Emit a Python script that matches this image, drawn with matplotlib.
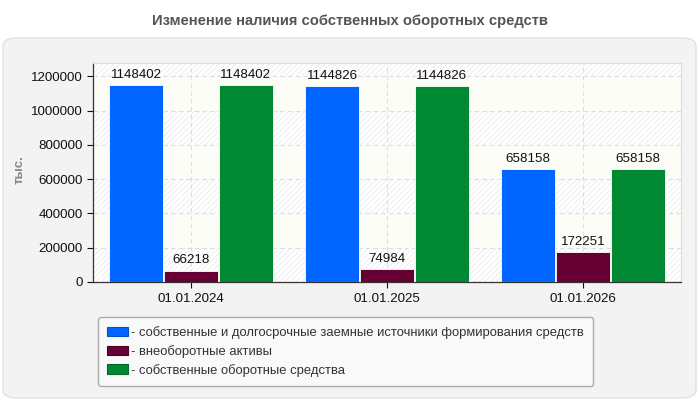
import numpy as np
import matplotlib
matplotlib.use("Agg")
import matplotlib.pyplot as plt
from matplotlib.patches import Patch, FancyBboxPatch

# chart data
dates = ["01.01.2024", "01.01.2025", "01.01.2026"]
own_and_longterm = [1148402, 1144826, 658158]
noncurrent_assets = [66218, 74984, 172251]
own_working_capital = [1148402, 1144826, 658158]
series_names = [
    "- собственные и долгосрочные заемные источники формирования средств",
    "- внеоборотные активы",
    "- собственные оборотные средства",
]
series_colors = ["#0066ff", "#660033", "#008833"]
series_edges = ["#0050c8", "#4a0025", "#006a27"]
y_ticks = [0, 200000, 400000, 600000, 800000, 1000000, 1200000]

plt.rcParams["font.family"] = ["Liberation Sans", "DejaVu Sans"]
plt.rcParams["hatch.linewidth"] = 0.5
plt.rcParams["hatch.color"] = "#e8e8e8"

W, H = 700, 400
fig = plt.figure(figsize=(7, 4), dpi=100)
fig.patch.set_facecolor("white")

# outer rounded panel (behind everything)
panel = FancyBboxPatch((3 / W, 2 / H), 693 / W, 360 / H,
                       boxstyle="round,pad=0,rounding_size=0.02",
                       transform=fig.transFigure, facecolor="#f3f3f3",
                       edgecolor="#e2e2e2", linewidth=1, zorder=-10)
fig.add_artist(panel)

fig.text(0.5, 1 - 20.5 / H, "Изменение наличия собственных оборотных средств",
         ha="center", va="center", fontsize=10.6, fontweight="bold", color="#555555")

ax = fig.add_axes([93 / W, 1 - 282 / H, 588 / W, (282 - 62.5) / H])
ax.set_zorder(1)
ymax = 1280000
ax.set_xlim(-0.5, len(dates) - 0.5)
ax.set_ylim(0, ymax)

# banded background: hatched / plain
edges = y_ticks + [ymax]
for i in range(len(edges) - 1):
    lo, hi = edges[i], edges[i + 1]
    if i % 2 == 0:
        ax.axhspan(lo, hi, facecolor="white", hatch="//////", edgecolor="#e8e8e8",
                   linewidth=0, zorder=0)
    else:
        ax.axhspan(lo, hi, facecolor="#fdfdf7", linewidth=0, zorder=0)

ax.set_facecolor("white")
x = np.arange(len(dates))
width = 0.275
offsets = [-0.28, 0.0, 0.28]
all_series = [own_and_longterm, noncurrent_assets, own_working_capital]
for vals, off, c in zip(all_series, offsets, series_colors):
    bars = ax.bar(x + off, vals, width=width, color=c, edgecolor="white",
                  linewidth=0.6, zorder=3)
    for b, v in zip(bars, vals):
        ax.annotate(f"{v}", (b.get_x() + b.get_width() / 2, v),
                    xytext=(0, 3), textcoords="offset points",
                    ha="center", va="bottom", fontsize=9.6, color="#111111", zorder=4)

ax.set_yticks(y_ticks)
ax.set_yticklabels([str(t) for t in y_ticks])
ax.set_xticks(x)
ax.set_xticklabels(dates)
ax.tick_params(axis="both", labelsize=9.6, colors="#111111", length=4, width=0.8)
ax.tick_params(axis="x", pad=4)

ax.grid(True, color="#dddddd", linestyle=(0, (4, 3)), linewidth=0.8, zorder=1)
ax.set_axisbelow(True)
for side in ["top", "right"]:
    ax.spines[side].set_color("#dddddd")
for side in ["left", "bottom"]:
    ax.spines[side].set_color("#333333")
    ax.spines[side].set_linewidth(0.9)

fig.text(20 / W, 1 - 170 / H, "тыс.", rotation=90, ha="center", va="center",
         fontsize=9.5, fontweight="bold", color="#888888")

handles = [Patch(facecolor=c, edgecolor=e, linewidth=0.8)
           for c, e in zip(series_colors, series_edges)]
leg = fig.legend(handles, series_names, loc="upper left",
                 bbox_to_anchor=(98 / W, 1 - 317 / H), borderaxespad=0,
                 fontsize=9.4, frameon=True, fancybox=True, handlelength=1.6,
                 handleheight=0.75, handletextpad=0.25, labelspacing=0.45,
                 borderpad=0.7, labelcolor="#333333")
frame = leg.get_frame()
frame.set_edgecolor("#aaaaaa")
frame.set_facecolor("#f9f9f9")
frame.set_alpha(1)
frame.set_linewidth(1)

fig.savefig("out.png", dpi=100)
